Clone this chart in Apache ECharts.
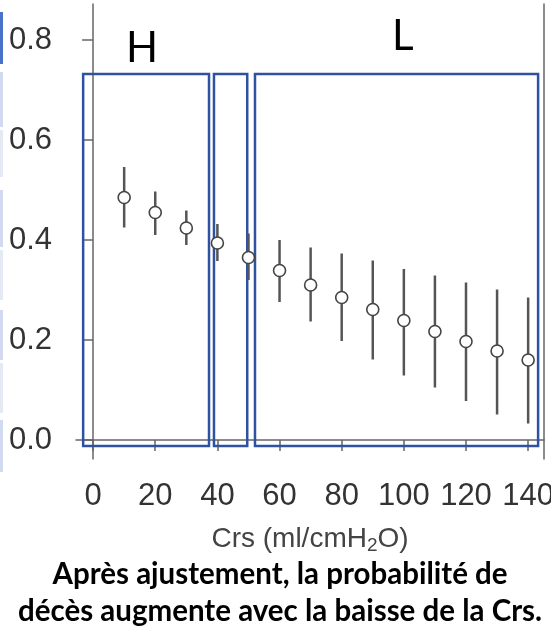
<!DOCTYPE html>
<html>
<head>
<meta charset="utf-8">
<title>Crs</title>
<script src="https://cdn.jsdelivr.net/npm/echarts@6/dist/echarts.min.js"></script>
<style>
  html, body { margin: 0; padding: 0; background: #fff; }
  #main { width: 551px; height: 628px; }
</style>
</head>
<body>
<div id="main"></div>
<script>
// valeurs
var crs = [10, 20, 30, 40, 50, 60, 70, 80, 90, 100, 110, 120, 130, 140];
var prob = [0.485, 0.455, 0.424, 0.394, 0.365, 0.339, 0.31, 0.285, 0.261, 0.239, 0.217, 0.197, 0.178, 0.16];
var lower = [0.425, 0.41, 0.39, 0.358, 0.32, 0.276, 0.237, 0.198, 0.161, 0.129, 0.105, 0.078, 0.051, 0.033];
var upper = [0.546, 0.497, 0.459, 0.432, 0.413, 0.40, 0.385, 0.373, 0.359, 0.342, 0.329, 0.315, 0.301, 0.285];
var xTicks = [0, 20, 40, 60, 80, 100, 120, 140];
var yTicks = [0, 0.2, 0.4, 0.6, 0.8];
// groupes (H / intermediaire / L)
var groupX = [[-3.2, 37.3], [38.9, 49.6], [52.1, 143.2]];
var groupY = [-0.012, 0.732];

var myChart = echarts.init(document.getElementById('main'));

var pts = [], bars = [];
for (var i = 0; i < crs.length; i++) {
    pts.push([crs[i], prob[i]]);
    bars.push([crs[i], lower[i], upper[i]]);
}

var boxes = groupX.map(function (g) {
    return [{ coord: [g[0], groupY[1]] }, { coord: [g[1], groupY[0]] }];
});

var axisGrey = '#666';
var tickFont = { fontFamily: 'Liberation Sans', fontSize: 31, color: '#333' };

myChart.setOption({
    animation: false,
    grid: { left: 76, right: 7, top: 4, bottom: 169, outerBoundsMode: 'none' },
    xAxis: {
        type: 'value',
        min: -5.5,
        max: 145.1,
        splitLine: { show: false },
        axisLine: { lineStyle: { color: axisGrey, width: 1.5 } },
        axisTick: { length: 11, customValues: xTicks, lineStyle: { color: axisGrey, width: 1.5 } },
        axisLabel: Object.assign({ customValues: xTicks, margin: 22 }, tickFont),
        name: 'Crs (ml/cmH{s|2}O)',
        nameLocation: 'middle',
        nameGap: 64,
        nameTextStyle: {
            fontFamily: 'Liberation Sans', fontSize: 28, color: '#444', lineHeight: 32,
            rich: { s: { fontFamily: 'Liberation Sans', fontSize: 19, color: '#444', lineHeight: 19, verticalAlign: 'bottom' } }
        }
    },
    yAxis: [{
        type: 'value',
        min: -0.038,
        max: 0.872,
        splitLine: { show: false },
        axisLine: { show: true, lineStyle: { color: axisGrey, width: 1.5 } },
        axisTick: { show: true, length: 11, customValues: yTicks, lineStyle: { color: axisGrey, width: 1.5 } },
        axisLabel: Object.assign({
            customValues: yTicks, margin: 24,
            formatter: function (v) { return v.toFixed(1); }
        }, tickFont)
    }, {
        type: 'value',
        position: 'right',
        min: -0.038,
        max: 0.872,
        splitLine: { show: false },
        axisLine: { show: true, lineStyle: { color: axisGrey, width: 1.5 } },
        axisTick: { show: false },
        axisLabel: { show: false }
    }],
    series: [{
        type: 'custom',
        z: 3,
        data: bars,
        renderItem: function (params, api) {
            var lo = api.coord([api.value(0), api.value(1)]);
            var hi = api.coord([api.value(0), api.value(2)]);
            return {
                type: 'line',
                shape: { x1: lo[0], y1: lo[1], x2: hi[0], y2: hi[1] },
                style: { stroke: '#555', lineWidth: 2.5 }
            };
        },
        markArea: {
            silent: true,
            itemStyle: { color: 'rgba(0,0,0,0)', borderColor: '#2f52a0', borderWidth: 2.5 },
            data: boxes
        }
    }, {
        type: 'scatter',
        z: 4,
        data: pts,
        symbol: 'circle',
        symbolSize: 12,
        itemStyle: { color: '#fff', borderColor: '#444', borderWidth: 1.6, opacity: 1 }
    }],
    graphic: [
        { type: 'rect', shape: { x: 0, y: 12, width: 3, height: 52 }, style: { fill: '#4a72c8' } },
        { type: 'rect', shape: { x: 0, y: 72, width: 3, height: 55 }, style: { fill: '#d2daf1' } },
        { type: 'rect', shape: { x: 0, y: 130, width: 3, height: 47 }, style: { fill: '#e4e9f6' } },
        { type: 'rect', shape: { x: 0, y: 190, width: 3, height: 57 }, style: { fill: '#d2daf1' } },
        { type: 'rect', shape: { x: 0, y: 250, width: 3, height: 50 }, style: { fill: '#e4e9f6' } },
        { type: 'rect', shape: { x: 0, y: 310, width: 3, height: 50 }, style: { fill: '#d2daf1' } },
        { type: 'rect', shape: { x: 0, y: 363, width: 3, height: 50 }, style: { fill: '#e4e9f6' } },
        { type: 'rect', shape: { x: 0, y: 420, width: 3, height: 52 }, style: { fill: '#d2daf1' } },
        {
            type: 'text', left: 126, top: 27,
            style: { text: 'H', font: '42px Lato', fill: '#000' }
        },
        {
            type: 'text', left: 392, top: 15,
            style: { text: 'L', font: '42px Lato', fill: '#000' }
        },
        {
            type: 'text', x: 280, y: 556,
            style: {
                text: 'Après ajustement, la probabilité de\ndécès augmente avec la baisse de la Crs.',
                font: 'bold 29.5px Lato', fill: '#000', align: 'center', lineHeight: 37
            }
        }
    ]
});
</script>
</body>
</html>
